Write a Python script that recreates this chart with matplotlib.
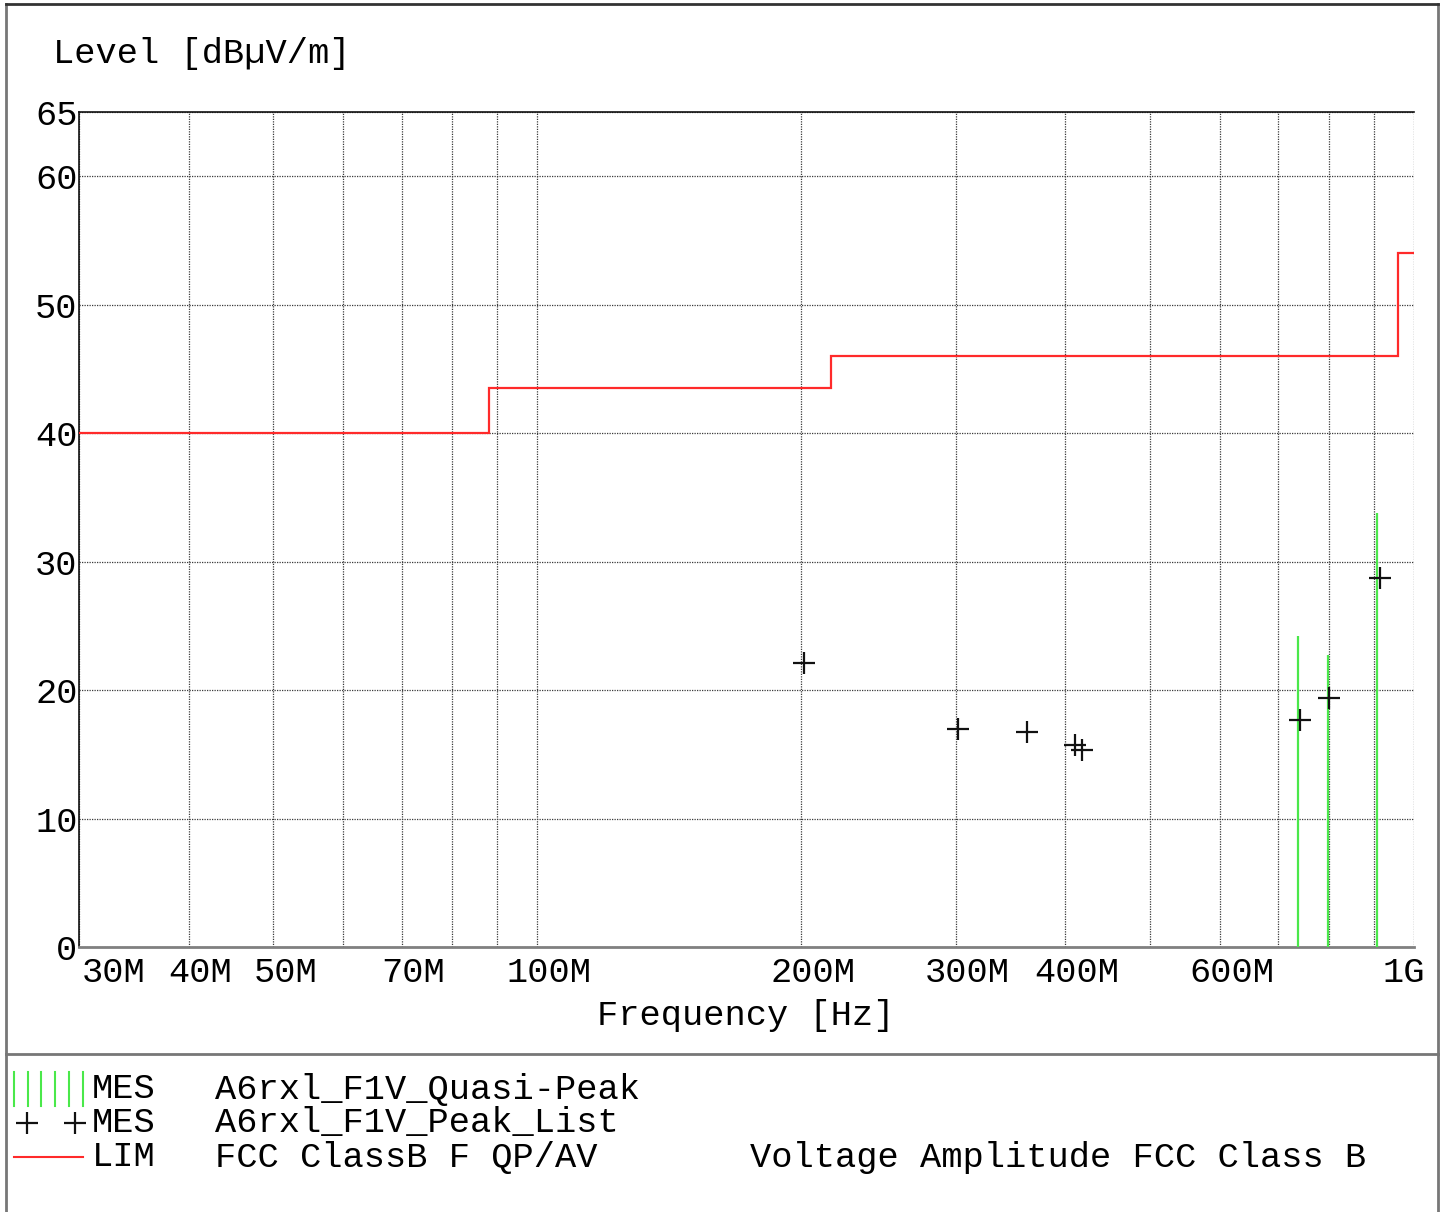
import matplotlib
matplotlib.use("Agg")
import matplotlib.pyplot as plt
import matplotlib.transforms as mtransforms
from matplotlib.lines import Line2D
from matplotlib.patches import Rectangle

# ---- data (frequencies in MHz, levels in dBµV/m) ----
limit_edges_mhz = [30, 88, 216, 960, 1000]
limit_levels = [40, 43.5, 46, 54]

peak_freq_mhz = [201.4, 301.9, 361.8, 410.5, 418.1, 741.4, 800.2, 914.8]
peak_level = [22.1, 17.0, 16.7, 15.7, 15.3, 17.7, 19.4, 28.7]

qp_freq_mhz = [736.7, 797.5, 908.0]
qp_level = [24.2, 22.7, 33.8]

x_grid_mhz = [30, 40, 50, 60, 70, 80, 90, 100, 200, 300, 400, 500, 600, 700, 800, 900, 1000]
x_label_mhz = [30, 40, 50, 70, 100, 200, 300, 400, 600, 1000]
x_label_text = ["30M", "40M", "50M", "70M", "100M", "200M", "300M", "400M", "600M", "1G"]
y_ticks = [0, 10, 20, 30, 40, 50, 60, 65]

legend_keys = ["MES", "MES", "LIM"]
legend_names = ["A6rxl_F1V_Quasi-Peak", "A6rxl_F1V_Peak_List", "FCC ClassB F QP/AV"]
limit_title = "Voltage Amplitude FCC Class B"

# ---- styling ----
plt.rcParams["font.family"] = ["Liberation Mono", "DejaVu Sans Mono"]
FS = 25.5
W, H = 1448, 1212
GREEN = "#4ae84a"
RED = "#ff2a2a"
GRID = "#3a3a3a"

fig = plt.figure(figsize=(W / 100, H / 100), dpi=100)
fig.patch.set_facecolor("white")


def fx(px):
    return px / W


def fy(py):
    return 1 - py / H


ax = fig.add_axes([fx(79), fy(947), fx(1414) - fx(79), fy(112) - fy(947)])
ax.set_xscale("log")
ax.set_xlim(30, 1000)
ax.set_ylim(0, 65)

# grid
ax.set_xticks(x_grid_mhz)
ax.set_xticklabels([])
ax.xaxis.set_minor_locator(matplotlib.ticker.NullLocator())
ax.set_yticks(y_ticks)
ax.set_yticklabels([str(v) for v in y_ticks], fontsize=FS)
ax.tick_params(axis="both", length=0)
ax.tick_params(axis="y", pad=1)
ax.grid(True, color=GRID, linestyle=(0, (1, 1)), linewidth=0.9)
ax.set_axisbelow(True)

for side in ["left", "top"]:
    ax.spines[side].set_color("#111111")
    ax.spines[side].set_linewidth(1.2)
ax.spines["bottom"].set_color("#808080")
ax.spines["bottom"].set_linewidth(2)
ax.spines["right"].set_visible(False)

# limit line
ax.stairs(limit_levels, limit_edges_mhz, baseline=None, color=RED, linewidth=1.6, zorder=3)

# quasi-peak measurement bars
ax.vlines(qp_freq_mhz, 0, qp_level, color=GREEN, linewidth=1.6, zorder=4)

# peak list markers
ax.plot(peak_freq_mhz, peak_level, linestyle="none", marker="+", markersize=16,
        markeredgewidth=1.6, color="#111111", zorder=5)

# x tick labels
lab_tr = ax.get_xaxis_transform()
for i, (f, t) in enumerate(zip(x_label_mhz, x_label_text)):
    if i == 0:
        ha, dx = "left", 3
    elif i == len(x_label_mhz) - 1:
        ha, dx = "right", 11
    else:
        ha, dx = "center", 12
    off = mtransforms.ScaledTranslation(dx / 100, -26 / 100, fig.dpi_scale_trans)
    ax.text(f, 0, t, transform=lab_tr + off, ha=ha, va="center", fontsize=FS, clip_on=False)

# axis titles
fig.text(fx(53), fy(54), "Level [dBµV/m]", ha="left", va="center", fontsize=FS)
fig.text(fx(746), fy(1016), "Frequency [Hz]", ha="center", va="center", fontsize=FS)

# frame
frame_kw = dict(transform=fig.transFigure, color="#777777", linewidth=2)
fig.add_artist(Line2D([fx(6), fx(6)], [fy(4), 0], **frame_kw))
fig.add_artist(Line2D([fx(1438), fx(1438)], [fy(4), 0], **frame_kw))
fig.add_artist(Line2D([fx(6), fx(1438)], [fy(4), fy(4)], transform=fig.transFigure,
                      color="#333333", linewidth=2))
fig.add_artist(Line2D([fx(6), fx(1438)], [fy(1054), fy(1054)], **frame_kw))

clip = Rectangle((fx(6), 0), fx(1438) - fx(6), fy(1054), transform=fig.transFigure,
                 facecolor="none", edgecolor="none")
fig.add_artist(clip)

# legend block
rows_y = [1089, 1123, 1157]
for gx in [14, 28, 41, 55, 69, 83]:
    fig.add_artist(Line2D([fx(gx), fx(gx)], [fy(1072), fy(1106)], transform=fig.transFigure,
                          color=GREEN, linewidth=1.5))
fig.add_artist(Line2D([fx(27), fx(75)], [fy(1123), fy(1123)], transform=fig.transFigure,
                      linestyle="none", marker="+", markersize=16, markeredgewidth=1.6,
                      color="#111111"))
fig.add_artist(Line2D([fx(14), fx(83)], [fy(1157), fy(1157)], transform=fig.transFigure,
                      color=RED, linewidth=1.5))

for ry, key, name in zip(rows_y, legend_keys, legend_names):
    fig.text(fx(92), fy(ry), key, ha="left", va="center", fontsize=FS)
    fig.text(fx(215), fy(ry), name, ha="left", va="center", fontsize=FS)

t = fig.text(fx(750), fy(rows_y[2]), limit_title, ha="left", va="center", fontsize=FS)
t.set_clip_path(clip)

fig.savefig("out.png", dpi=100, facecolor="white")
